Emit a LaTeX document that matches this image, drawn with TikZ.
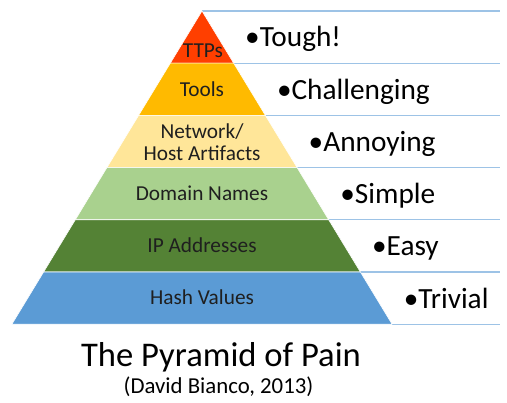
\documentclass[tikz,border=0pt]{standalone}
\usepackage{fontspec}
\setmainfont{Carlito}
\usepackage{xcolor}

\definecolor{ttpred}{HTML}{FF3F00}
\definecolor{toolgold}{HTML}{FFBA00}
\definecolor{artyellow}{HTML}{FFE699}
\definecolor{domgreen}{HTML}{A9D18E}
\definecolor{ipgreen}{HTML}{548235}
\definecolor{hashblue}{HTML}{5B9BD5}
\definecolor{lineblue}{HTML}{9DC3E6}

\begin{document}
\begin{tikzpicture}[x=1pt, y=-1pt,
  tier/.style={draw=white, line width=0.6pt},
  tiertext/.style={inner sep=0pt, anchor=base, text=black!88, font=\fontsize{21.3}{22.5}\selectfont},
  paintext/.style={inner sep=0pt, anchor=base west, font=\fontsize{29.3}{34}\selectfont},
  row/.style={draw=lineblue, line width=1.1pt}]
  % Keep the page at the size of the slide
  \useasboundingbox (0,0) rectangle (507,403);

  % Rows on the right side
  \draw[row] (202,11) -- (500,11);
  \draw[row] (233.7,63.2) -- (500,63.2);
  \draw[row] (265.4,115.4) -- (500,115.4);
  \draw[row] (297.1,167.6) -- (500,167.6);
  \draw[row] (328.7,219.8) -- (500,219.8);
  \draw[row] (360.4,272) -- (500,272);
  \draw[row] (392.1,324.2) -- (500,324.2);

  % Fill in the pyramid, top to bottom
  \filldraw[tier, fill=ttpred] (202,11) -- (233.7,63.2) -- (170.3,63.2) -- cycle;
  \filldraw[tier, fill=toolgold] (170.3,63.2) -- (233.7,63.2) -- (265.4,115.4) -- (138.6,115.4) -- cycle;
  \filldraw[tier, fill=artyellow] (138.6,115.4) -- (265.4,115.4) -- (297.1,167.6) -- (106.9,167.6) -- cycle;
  \filldraw[tier, fill=domgreen] (106.9,167.6) -- (297.1,167.6) -- (328.7,219.8) -- (75.3,219.8) -- cycle;
  \filldraw[tier, fill=ipgreen] (75.3,219.8) -- (328.7,219.8) -- (360.4,272) -- (43.6,272) -- cycle;
  \filldraw[tier, fill=hashblue] (43.6,272) -- (360.4,272) -- (392.1,324.2) -- (11.9,324.2) -- cycle;

  % Names of the indicators
  \node[tiertext] (ttps) at (203,57.8) {TTPs};
  \node[tiertext] (tools) at (202,96.1) {Tools};
  \node[tiertext, anchor=center, align=center] (artifacts) at (202,142) {Network/\\Host Artifacts};
  \node[tiertext] (domains) at (202,200.5) {Domain Names};
  \node[tiertext] (ips) at (202,252.7) {IP Addresses};
  \node[tiertext] (hashes) at (202,304.9) {Hash Values};

  % How much it hurts
  \node[paintext] (tough) at (245,47) {•Tough!};
  \node[paintext] (challenging) at (276.8,99.3) {•Challenging};
  \node[paintext] (annoying) at (308.5,151.5) {•Annoying};
  \node[paintext] (simple) at (340.2,203.7) {•Simple};
  \node[paintext] (easy) at (371.9,256) {•Easy};
  \node[paintext] (trivial) at (403.6,308.2) {•Trivial};

  % Title
  \node[inner sep=0pt, anchor=base, font=\fontsize{34.6}{40}\selectfont] (title) at (221,367) {The Pyramid of Pain};
  \node[inner sep=0pt, anchor=base, font=\fontsize{22.8}{26}\selectfont] (source) at (218.5,394) {(David Bianco, 2013)};
\end{tikzpicture}
\end{document}
